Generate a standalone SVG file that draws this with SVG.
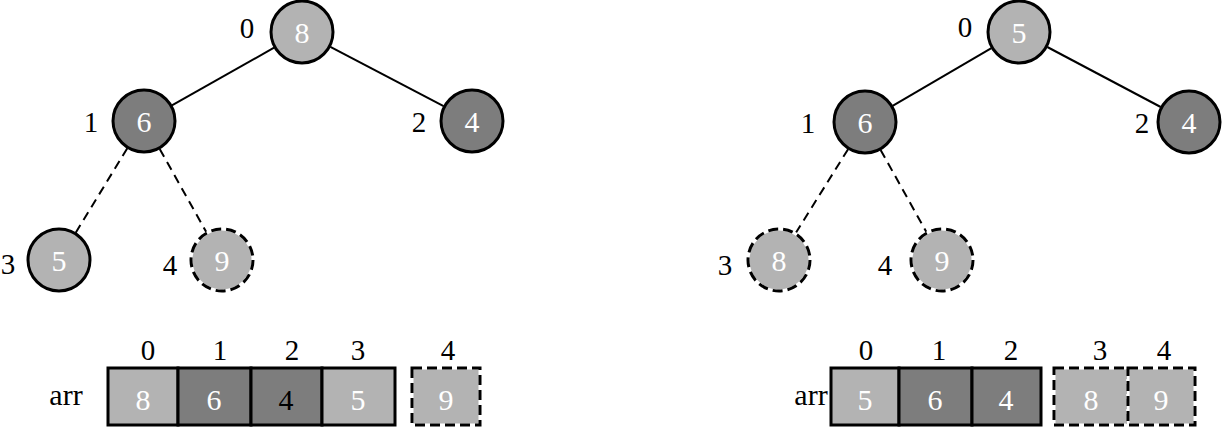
<svg xmlns="http://www.w3.org/2000/svg" width="1227" height="427" viewBox="0 0 1227 427">
<style>
text{font-family:"Liberation Serif","Times New Roman",serif;font-size:29px;text-anchor:middle}
.v{fill:#fff;font-size:30px}
.k{fill:#000}
.light{fill:#b3b3b3}
.dark{fill:#7d7d7d}
.solid{stroke:#000;stroke-width:3}
.under{fill:none;stroke:#fff;stroke-width:3}
.dash{fill:none;stroke:#000;stroke-width:3;stroke-dasharray:10 5}
.edge{stroke:#000;stroke-width:2;fill:none}
.dedge{stroke:#000;stroke-width:2;fill:none;stroke-dasharray:9 6}
</style>
<g id="connectors">
<line class="edge" x1="274.1" y1="47.7" x2="171.9" y2="105.3"/>
<line class="edge" x1="330.4" y1="46.8" x2="443.6" y2="106.2"/>
<line class="dedge" x1="127.3" y1="148.3" x2="75.7" y2="232.7"/>
<line class="dedge" x1="159.7" y1="148.9" x2="206.3" y2="232.1"/>
<line class="edge" x1="991.4" y1="48.1" x2="892.6" y2="105.9"/>
<line class="edge" x1="1047.3" y1="47" x2="1160.7" y2="107"/>
<line class="dedge" x1="848.1" y1="149.2" x2="795.9" y2="232.8"/>
<line class="dedge" x1="880.6" y1="149.9" x2="926.4" y2="232.1"/>
</g>
<g id="L-node0"><circle class="light solid" cx="302" cy="32" r="31"/><text class="v" x="302" y="43">8</text><text class="k" x="247" y="38">0</text></g>
<g id="L-node1"><circle class="dark solid" cx="144" cy="121" r="31"/><text class="v" x="144" y="132">6</text><text class="k" x="91" y="132">1</text></g>
<g id="L-node2"><circle class="dark solid" cx="472" cy="121" r="31"/><text class="v" x="472" y="132">4</text><text class="k" x="419" y="132">2</text></g>
<g id="L-node3"><circle class="light solid" cx="59" cy="260" r="31"/><text class="v" x="59" y="271">5</text><text class="k" x="8" y="274">3</text></g>
<g id="L-node4"><circle class="light" cx="222" cy="260" r="31"/><circle class="under" cx="222" cy="260" r="31"/><circle class="dash" cx="222" cy="260" r="31"/><text class="v" x="222" y="271">9</text><text class="k" x="170" y="275">4</text></g>
<g id="L-array">
<text class="k" x="66" y="405" style="font-size:30px">arr</text>
<rect class="light solid" x="108" y="368" width="70" height="57"/>
<rect class="dark solid" x="178" y="368" width="73" height="57"/>
<rect class="dark solid" x="251" y="368" width="71" height="57"/>
<rect class="light solid" x="322" y="368" width="73" height="57"/>
<rect class="light" x="412" y="368" width="68" height="57"/>
<rect class="under" x="412" y="368" width="68" height="57"/>
<rect class="dash" x="412" y="368" width="68" height="57"/>
<text class="v" x="143" y="410">8</text>
<text class="v" x="214" y="410">6</text>
<text class="k" x="286" y="410" style="font-size:30px">4</text>
<text class="v" x="358" y="410">5</text>
<text class="v" x="446" y="410">9</text>
<text class="k" x="148" y="360">0</text>
<text class="k" x="220" y="360">1</text>
<text class="k" x="292" y="360">2</text>
<text class="k" x="358" y="360">3</text>
<text class="k" x="448" y="360">4</text>
</g>
<g id="R-node0"><circle class="light solid" cx="1019" cy="32" r="31"/><text class="v" x="1019" y="43">5</text><text class="k" x="965" y="37">0</text></g>
<g id="R-node1"><circle class="dark solid" cx="865" cy="122" r="31"/><text class="v" x="865" y="133">6</text><text class="k" x="808" y="133">1</text></g>
<g id="R-node2"><circle class="dark solid" cx="1189" cy="122" r="31"/><text class="v" x="1189" y="133">4</text><text class="k" x="1142" y="133">2</text></g>
<g id="R-node3"><circle class="light" cx="779" cy="260" r="31"/><circle class="under" cx="779" cy="260" r="31"/><circle class="dash" cx="779" cy="260" r="31"/><text class="v" x="779" y="271">8</text><text class="k" x="725" y="275">3</text></g>
<g id="R-node4"><circle class="light" cx="942" cy="260" r="31"/><circle class="under" cx="942" cy="260" r="31"/><circle class="dash" cx="942" cy="260" r="31"/><text class="v" x="942" y="271">9</text><text class="k" x="885" y="275">4</text></g>
<g id="R-array">
<text class="k" x="811" y="405" style="font-size:30px">arr</text>
<rect class="light solid" x="831" y="368" width="68" height="57"/>
<rect class="dark solid" x="899" y="368" width="73" height="57"/>
<rect class="dark solid" x="972" y="368" width="69" height="57"/>
<rect class="light" x="1054" y="368" width="74" height="57"/>
<rect class="under" x="1054" y="368" width="74" height="57"/>
<rect class="dash" x="1054" y="368" width="74" height="57"/>
<rect class="light" x="1128" y="368" width="67" height="57"/>
<rect class="under" x="1128" y="368" width="67" height="57"/>
<rect class="dash" x="1128" y="368" width="67" height="57"/>
<text class="v" x="865" y="410">5</text>
<text class="v" x="935" y="410">6</text>
<text class="v" x="1006" y="410">4</text>
<text class="v" x="1091" y="410">8</text>
<text class="v" x="1161" y="410">9</text>
<text class="k" x="866" y="360">0</text>
<text class="k" x="939" y="360">1</text>
<text class="k" x="1011" y="360">2</text>
<text class="k" x="1100" y="360">3</text>
<text class="k" x="1164" y="360">4</text>
</g>
</svg>
